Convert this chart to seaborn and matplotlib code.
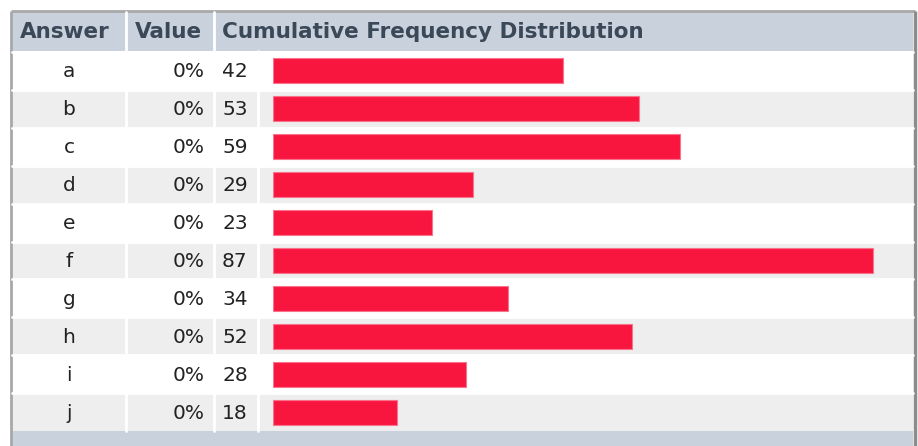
import matplotlib
matplotlib.use("Agg")
import matplotlib.pyplot as plt
from matplotlib.patches import Rectangle
import seaborn as sns
import pandas as pd

# Survey results
answers = ["a", "b", "c", "d", "e", "f", "g", "h", "i", "j"]
percent_labels = ["0%", "0%", "0%", "0%", "0%", "0%", "0%", "0%", "0%", "0%"]
counts = [42, 53, 59, 29, 23, 87, 34, 52, 28, 18]
headers = ["Answer", "Value", "Cumulative Frequency Distribution"]

sns.set_theme(style="white")
plt.rcParams["font.family"] = ["DejaVu Sans"]

W, H = 918, 446
HEADER_BG = "#C9D2DC"
HEADER_FG = "#3A4858"
ROW_ALT = "#EEEEEE"
BAR = "#F8163F"
BAR_EDGE = "#F9738C"
TEXT = "#222222"

fig = plt.figure(figsize=(W / 100, H / 100), dpi=100)
fig.patch.set_facecolor("white")

# Table background drawn in pixel coordinates
bg = fig.add_axes([0, 0, 1, 1])
bg.set_xlim(0, W)
bg.set_ylim(H, 0)
bg.axis("off")

left, right = 12, 913
top_hdr, bot_hdr = 12, 51
row_top0, row_h = 52, 37.9
n = len(answers)
foot_top = row_top0 + n * row_h

# outer frame
bg.plot([10.5, 10.5], [H, 10.5], color="#A8A8A8", lw=2, solid_capstyle="butt")
bg.plot([10.5, 915], [10.5, 10.5], color="#A8A8A8", lw=2, solid_capstyle="butt")
bg.plot([915, 915], [10.5, H], color="#8C8C8C", lw=2.5, solid_capstyle="butt")

# header band
bg.add_patch(Rectangle((left, top_hdr), right - left, bot_hdr - top_hdr,
                       facecolor=HEADER_BG, edgecolor="none"))
# footer band
bg.add_patch(Rectangle((left, foot_top), right - left, H - foot_top,
                       facecolor=HEADER_BG, edgecolor="none"))

# striped rows
for k in range(n):
    y0 = row_top0 + k * row_h
    color = "white" if k % 2 == 0 else ROW_ALT
    bg.add_patch(Rectangle((left, y0), right - left, row_h,
                           facecolor=color, edgecolor="none"))
    # horizontal separator
    bg.plot([left, right], [y0, y0], color="white", lw=2)

# vertical cell separators
for xs in (126, 214):
    bg.plot([xs, xs], [top_hdr, foot_top], color="white", lw=2)
bg.plot([258, 258], [bot_hdr, foot_top], color="white", lw=2)

# header text
hy = (top_hdr + bot_hdr) / 2 + 1
for x, label in zip((20, 135, 222), headers):
    bg.text(x, hy, label, ha="left", va="center", fontsize=15.5,
            fontweight="bold", color=HEADER_FG)

# row text
for k in range(n):
    yc = row_top0 + (k + 0.5) * row_h + 1
    bg.text(69, yc, answers[k], ha="center", va="center", fontsize=14.5, color=TEXT)
    bg.text(205, yc, percent_labels[k], ha="right", va="center", fontsize=14.5, color=TEXT)
    bg.text(222, yc, str(counts[k]), ha="left", va="center", fontsize=14.5, color=TEXT)

# bar column: 6.9 px per unit, starting at x=273
bar_left, bar_right = 273, 913
px_per_unit = 6.9
ax = fig.add_axes([bar_left / W, 1 - foot_top / H,
                   (bar_right - bar_left) / W, (foot_top - row_top0) / H])
df = pd.DataFrame({"answer": answers, "count": counts})
sns.barplot(data=df, x="count", y="answer", order=answers, orient="h",
            color=BAR, saturation=1, width=0.66, edgecolor=BAR_EDGE,
            linewidth=0.8, ax=ax)
ax.set_xlim(0, (bar_right - bar_left) / px_per_unit)
ax.set_ylim(n - 0.5, -0.5)
ax.patch.set_alpha(0)
ax.axis("off")

fig.savefig("out.png", dpi=100)
